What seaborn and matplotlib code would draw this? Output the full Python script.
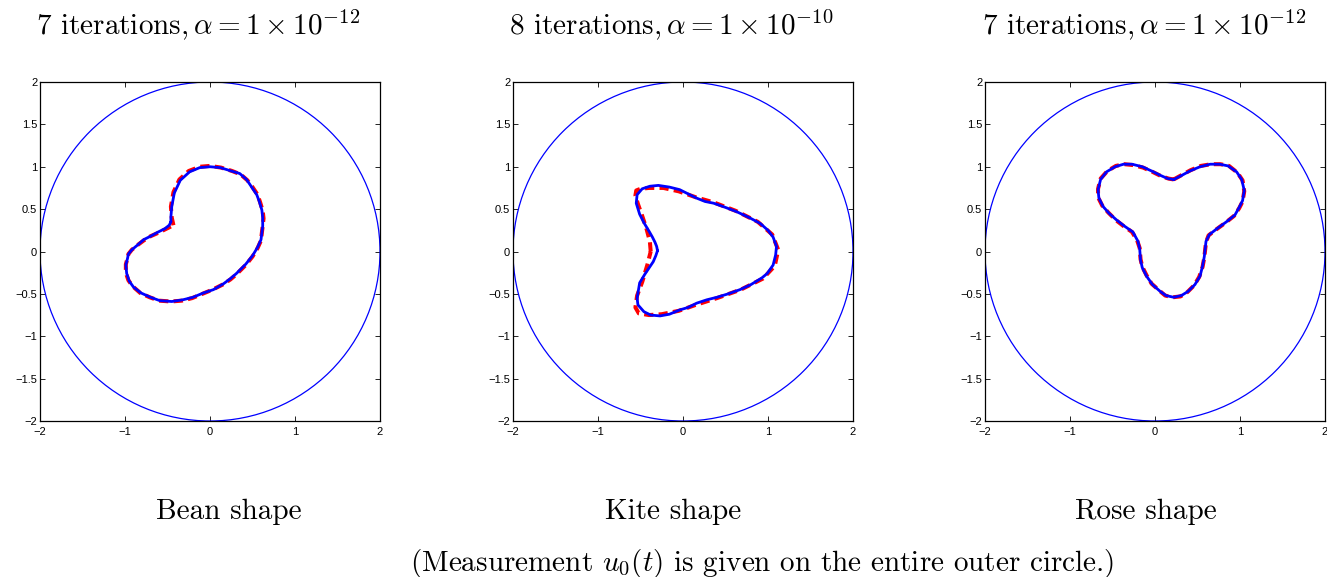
import matplotlib
matplotlib.use("Agg")
import matplotlib.pyplot as plt
from matplotlib.patches import Circle
import seaborn as sns

# ---------------- data ----------------
outer_radius = 2.0

bean_true_x = [-0.46, -0.46, -0.45, -0.42, -0.35, -0.24, -0.12, 0.00, 0.12, 0.25, 0.35, 0.43, 0.49, 0.55, 0.58,
               0.61, 0.62, 0.62, 0.61, 0.60, 0.56, 0.50, 0.42, 0.31, 0.24, 0.16, 0.04, -0.08, -0.20, -0.32,
               -0.45, -0.59, -0.70, -0.81, -0.90, -0.95, -0.98, -0.99, -0.97, -0.96, -0.92, -0.86, -0.78, -0.70,
               -0.61, -0.53, -0.48, -0.46]
bean_true_y = [0.35, 0.41, 0.53, 0.69, 0.84, 0.94, 0.99, 1.00, 0.99, 0.95, 0.92, 0.85, 0.76, 0.67, 0.59,
               0.49, 0.40, 0.30, 0.22, 0.14, 0.05, -0.05, -0.15, -0.26, -0.32, -0.38, -0.45, -0.49, -0.54,
               -0.57, -0.59, -0.58, -0.54, -0.49, -0.42, -0.35, -0.26, -0.16, -0.08, -0.03, 0.02, 0.07, 0.14, 0.18,
               0.23, 0.27, 0.31, 0.35]
bean_rec_x = [-0.43, -0.45, -0.46, -0.43, -0.36, -0.25, -0.12, 0.00, 0.13, 0.26, 0.36, 0.44, 0.50, 0.56, 0.59,
              0.62, 0.63, 0.62, 0.61, 0.60, 0.56, 0.50, 0.42, 0.31, 0.24, 0.15, 0.03, -0.09, -0.21, -0.33,
              -0.46, -0.60, -0.71, -0.82, -0.91, -0.96, -0.99, -0.99, -0.97, -0.96, -0.92, -0.86, -0.78, -0.70,
              -0.61, -0.53, -0.47, -0.43]
bean_rec_y = [0.31, 0.40, 0.53, 0.70, 0.85, 0.95, 1.00, 1.01, 0.99, 0.95, 0.91, 0.84, 0.76, 0.67, 0.58,
              0.48, 0.39, 0.30, 0.22, 0.13, 0.04, -0.06, -0.16, -0.27, -0.33, -0.39, -0.45, -0.50, -0.55,
              -0.58, -0.59, -0.58, -0.54, -0.49, -0.41, -0.34, -0.25, -0.15, -0.08, -0.03, 0.02, 0.07, 0.13, 0.18,
              0.22, 0.26, 0.29, 0.31]

kite_true_x = [-0.30, -0.31, -0.33, -0.36, -0.40, -0.46, -0.51, -0.55, -0.54, -0.48, -0.39, -0.29, -0.16, -0.04,
               0.06, 0.16, 0.26, 0.36, 0.50, 0.63, 0.78, 0.91, 1.00, 1.06, 1.10, 1.09, 1.06, 0.99, 0.93, 0.80,
               0.67, 0.53, 0.40, 0.28, 0.16, 0.06, -0.04, -0.16, -0.27, -0.38, -0.46, -0.53, -0.54, -0.51,
               -0.45, -0.39, -0.35, -0.32, -0.30]
kite_true_y = [0.01, 0.06, 0.11, 0.17, 0.24, 0.34, 0.44, 0.57, 0.67, 0.74, 0.77, 0.78, 0.76, 0.73, 0.68, 0.63,
               0.59, 0.57, 0.52, 0.47, 0.40, 0.33, 0.25, 0.17, 0.06, -0.04, -0.16, -0.26, -0.31, -0.39, -0.45,
               -0.50, -0.54, -0.57, -0.61, -0.66, -0.69, -0.74, -0.76, -0.75, -0.71, -0.63, -0.55, -0.37,
               -0.27, -0.18, -0.12, -0.05, 0.01]
kite_rec_x = [-0.38, -0.39, -0.43, -0.48, -0.53, -0.56, -0.55, -0.50, -0.40, -0.23, -0.05, 0.15, 0.36, 0.62,
              0.88, 1.05, 1.12, 1.08, 0.94, 0.68, 0.40, 0.15, -0.05, -0.25, -0.40, -0.52, -0.56, -0.54, -0.48,
              -0.42, -0.38]
kite_rec_y = [0.00, 0.12, 0.27, 0.42, 0.56, 0.66, 0.72, 0.74, 0.75, 0.75, 0.71, 0.64, 0.58, 0.48, 0.35, 0.20,
              0.02, -0.17, -0.32, -0.45, -0.55, -0.63, -0.70, -0.74, -0.75, -0.73, -0.66, -0.52, -0.36, -0.16,
              0.00]

rose_true_x = [0.22, 0.30, 0.41, 0.53, 0.65, 0.76, 0.86, 0.96, 1.02, 1.05, 1.03, 0.99, 0.94, 0.84, 0.73, 0.64,
               0.60, 0.59, 0.58, 0.56, 0.53, 0.47, 0.39, 0.31, 0.22, 0.13, 0.06, -0.03, -0.10, -0.15, -0.17,
               -0.18, -0.20, -0.26, -0.36, -0.45, -0.54, -0.61, -0.66, -0.67, -0.64, -0.57, -0.47, -0.37, -0.27,
               -0.15, -0.04, 0.06, 0.15, 0.22]
rose_true_y = [0.85, 0.89, 0.95, 1.00, 1.03, 1.03, 1.01, 0.94, 0.85, 0.72, 0.60, 0.52, 0.43, 0.35, 0.27, 0.20,
               0.12, 0.03, -0.06, -0.17, -0.29, -0.39, -0.47, -0.52, -0.54, -0.52, -0.47, -0.39, -0.29, -0.19,
               -0.10, 0.03, 0.12, 0.23, 0.30, 0.37, 0.45, 0.53, 0.63, 0.73, 0.85, 0.94, 1.00, 1.03, 1.03, 1.00,
               0.95, 0.90, 0.86, 0.85]
rose_rec_x = [0.22, 0.31, 0.42, 0.54, 0.66, 0.77, 0.87, 0.97, 1.03, 1.05, 1.03, 0.99, 0.93, 0.83, 0.72, 0.63,
              0.60, 0.59, 0.58, 0.56, 0.52, 0.46, 0.38, 0.30, 0.21, 0.12, 0.05, -0.04, -0.10, -0.15, -0.17,
              -0.18, -0.21, -0.27, -0.37, -0.46, -0.55, -0.62, -0.67, -0.67, -0.64, -0.56, -0.46, -0.36, -0.26,
              -0.14, -0.03, 0.07, 0.16, 0.22]
rose_rec_y = [0.85, 0.90, 0.96, 1.01, 1.03, 1.03, 1.01, 0.93, 0.84, 0.71, 0.59, 0.51, 0.42, 0.34, 0.26, 0.19,
              0.11, 0.02, -0.07, -0.18, -0.30, -0.40, -0.48, -0.53, -0.54, -0.52, -0.46, -0.38, -0.28, -0.18,
              -0.09, 0.04, 0.13, 0.23, 0.30, 0.37, 0.46, 0.54, 0.64, 0.74, 0.86, 0.95, 1.01, 1.03, 1.02, 0.99,
              0.94, 0.89, 0.86, 0.85]

titles = [r"7 iterations$,\alpha = 1\times10^{-12}$",
          r"8 iterations$,\alpha = 1\times10^{-10}$",
          r"7 iterations$,\alpha = 1\times10^{-12}$"]
captions = ["Bean shape", "Kite shape", "Rose shape"]
footnote = r"(Measurement $u_0(t)$ is given on the entire outer circle.)"

x_ticks = [-2, -1, 0, 1, 2]
x_tick_labels = ["\u22122", "\u22121", "0", "1", "2"]
y_ticks = [-2, -1.5, -1, -0.5, 0, 0.5, 1, 1.5, 2]
y_tick_labels = ["\u22122", "\u22121.5", "\u22121", "\u22120.5", "0", "0.5", "1", "1.5", "2"]

shapes = [
    (bean_true_x, bean_true_y, bean_rec_x, bean_rec_y),
    (kite_true_x, kite_true_y, kite_rec_x, kite_rec_y),
    (rose_true_x, rose_true_y, rose_rec_x, rose_rec_y),
]

# ---------------- figure ----------------
sns.set_style("ticks")
plt.rcParams["font.family"] = ["Liberation Sans", "DejaVu Sans"]
plt.rcParams["mathtext.fontset"] = "cm"

W, H = 1327, 577
fig = plt.figure(figsize=(W / 100, H / 100), dpi=100)

ax_lefts = [40, 513, 985]
ax_w, ax_top, ax_bot = 340, 82, 421
title_x = [198, 671, 1144]
caption_x = [229, 673, 1146]
TXT = dict(ha="center", va="center", fontsize=21, family="cmr10", color="black")

for i, (tx, ty, rx, ry) in enumerate(shapes):
    ax = fig.add_axes([ax_lefts[i] / W, (H - ax_bot) / H, ax_w / W, (ax_bot - ax_top) / H])
    ax.add_patch(Circle((0, 0), outer_radius, fill=False, edgecolor="#0000ff", lw=0.9, zorder=1))
    sns.lineplot(x=rx, y=ry, sort=False, estimator=None, ax=ax, color="#ff0000", lw=2.9, zorder=2)
    ax.lines[-1].set_linestyle((0, (2.3, 1.3)))
    sns.lineplot(x=tx, y=ty, sort=False, estimator=None, ax=ax, color="#0000ff", lw=2.0, zorder=3)
    ax.set_xlim(-2, 2)
    ax.set_ylim(-2, 2)
    ax.set_xticks(x_ticks)
    ax.set_xticklabels(x_tick_labels)
    ax.set_yticks(y_ticks)
    ax.set_yticklabels(y_tick_labels)
    ax.tick_params(direction="in", length=3.5, width=0.6, top=True, right=True,
                   labelsize=8, colors="black")
    ax.tick_params(axis="x", pad=4)
    ax.tick_params(axis="y", pad=2)
    for s in ax.spines.values():
        s.set_linewidth(0.9)
        s.set_color("black")
        s.set_visible(True)
    ax.set_facecolor("white")

    fig.text(title_x[i] / W, 1 - 25 / H, titles[i], **TXT)
    fig.text(caption_x[i] / W, 1 - 512 / H, captions[i], **TXT)

fig.text(762 / W, 1 - 563 / H, footnote, **TXT)

fig.savefig("out.png", dpi=100, facecolor="white")
